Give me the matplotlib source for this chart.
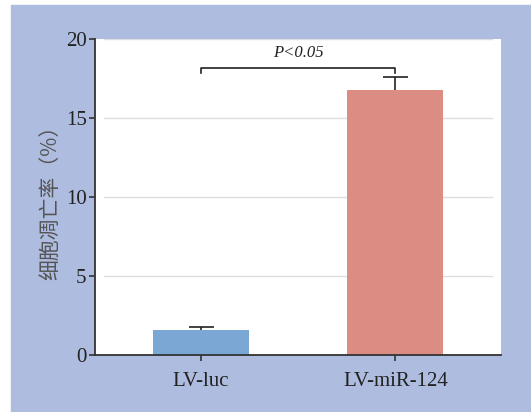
import numpy as np
import matplotlib.pyplot as plt
from matplotlib.patches import Rectangle

groups = ["LV-luc", "LV-miR-124"]
rates = [1.58, 16.75]
errors = [0.17, 0.85]
yticks = [0, 5, 10, 15, 20]
bar_colors = ["#7BA7D4", "#DB8C83"]
p_text = "P<0.05"
ylabel = "细胞凋亡率（%）"

serif = ["Liberation Serif", "DejaVu Serif"]
cjk = ["Noto Sans CJK SC", "DejaVu Sans"]

fig = plt.figure(figsize=(5.31, 4.12), dpi=100, facecolor="white")
fig.patches.append(Rectangle((11 / 531, 0), 1, (412 - 5) / 412,
                             transform=fig.transFigure, color="#AEBCDF", zorder=-10))

ax = fig.add_axes([95 / 531, 57 / 412, 406 / 531, 316 / 412])
ax.set_facecolor("white")

x = np.arange(len(groups))
ax.bar(x, rates, width=0.495, color=bar_colors, zorder=2)
line, caps, bars = ax.errorbar(x, rates, yerr=[np.zeros(len(errors)), errors], fmt="none",
                               ecolor="#222222", elinewidth=1.2, capsize=9, capthick=1.2, zorder=3)
caps[0].set_visible(False)  # only the upper cap

for t in yticks[1:]:
    ax.axhline(t, xmin=0.022, xmax=0.978, color="#DDDDDD", lw=1, zorder=1)

ax.set_xlim(-0.546, 1.544)
ax.set_ylim(0, 20)
ax.set_yticks(yticks)
ax.set_xticks(x)
ax.set_xticklabels(groups)

for s in ["top", "right"]:
    ax.spines[s].set_visible(False)
for s in ["left", "bottom"]:
    ax.spines[s].set_color("#333333")
    ax.spines[s].set_linewidth(1.3)

ax.tick_params(axis="both", length=4, width=1.2, color="#333333",
               labelcolor="#222222", labelsize=15)
for lab in ax.get_xticklabels() + ax.get_yticklabels():
    lab.set_family(serif)
ax.tick_params(axis="x", pad=8)
ax.tick_params(axis="y", pad=2)

# significance bracket
yb = 18.15
ax.plot([x[0], x[0], x[1], x[1]], [yb - 0.3, yb, yb, yb - 0.3],
        color="#222222", lw=1.2, zorder=3)
ax.text((x[0] + x[1]) / 2, yb + 0.45, p_text, ha="center", va="bottom",
        fontsize=12, family=serif, style="italic", color="#222222")

ax.set_ylabel(ylabel, family=cjk, fontsize=15, color="#555555", labelpad=3)

fig.savefig("out.png", dpi=100, facecolor=fig.get_facecolor())
